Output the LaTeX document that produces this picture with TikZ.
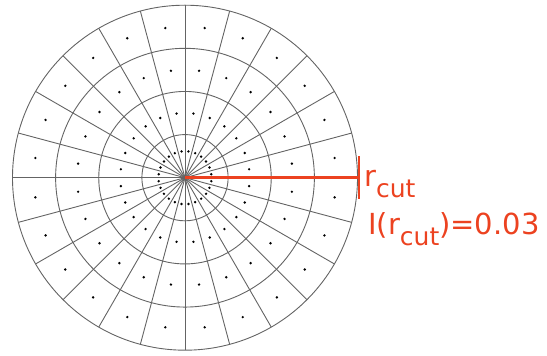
\documentclass[tikz,border=0pt]{standalone}
\usepackage{fontspec}
\setmainfont{DejaVu Sans}
\usetikzlibrary{positioning}
\definecolor{cutred}{RGB}{236,66,32}
\definecolor{gridgray}{RGB}{100,100,100}
\newcommand{\subtxt}[1]{\raisebox{-0.36em}{\fontsize{25}{30}\selectfont #1}}

\begin{document}
\begin{tikzpicture}[x=1pt,y=1pt,
  gridline/.style={draw=gridgray, line width=0.9pt},
  cutline/.style={draw=cutred, line width=2.6pt},
  cutlabel/.style={text=cutred, font=\fontsize{29}{34}\selectfont, inner sep=0pt, anchor=base west}]
\useasboundingbox (0,0) rectangle (547,356);
\coordinate (c) at (185,178.3);

% spokes
\foreach \a in {0,15,...,345}
  \draw[gridline] (c) -- ++(\a:172.5);

% rings
\foreach \k in {1,...,4}
  \draw[gridline] (c) circle ({43.125*\k});

% one dot per cell
\foreach \a in {7.5,22.5,...,352.5}{
  \fill (c) ++(\a:26.5) circle (1.35);
  \foreach \r in {64.7,107.8,150.9}
    \fill (c) ++(\a:\r) circle (1.35);
}

% cut radius
\coordinate (cutend) at (359,178.3);
\draw[cutline] (c) -- (cutend);
\draw[cutline, line width=2.2pt] (cutend) ++(0,21.5) -- ++(0,-43);

\node[cutlabel] (rcut) at (364,169.3) {r\subtxt{cut}};
\node[cutlabel] (icut) at (368,121) {I(r\subtxt{cut})=0.03};
\end{tikzpicture}
\end{document}
